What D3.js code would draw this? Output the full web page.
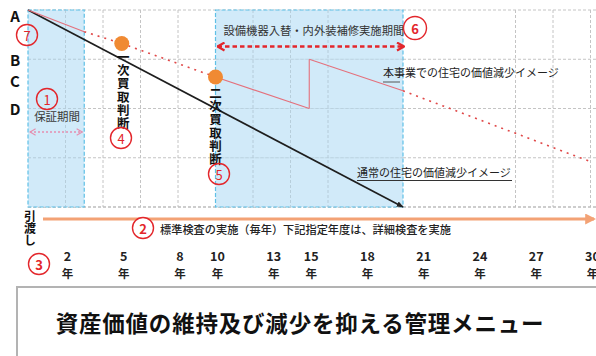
<!DOCTYPE html>
<html>
<head>
<meta charset="utf-8">
<script src="https://cdn.jsdelivr.net/npm/d3@7"></script>
<style>
  html, body { margin: 0; padding: 0; background: #fff; }
  svg { display: block; }
  text { font-family: "Noto Sans CJK JP", "Noto Sans", sans-serif; }
  .vert { writing-mode: vertical-rl; text-orientation: upright; }
</style>
</head>
<body>
<svg id="chart" width="596" height="356"></svg>
<script>
// Elapsed years shown on the bottom axis
const tickYears = [2, 5, 8, 10, 13, 15, 18, 21, 24, 27, 30];

// Value levels marked on the left (index 0–100)
const levelNames = ["A", "B", "C", "D"];
const levelValues = [100, 75, 64, 50];

// Ordinary house: value declines straight to zero
const ordinaryYears = [0, 20];
const ordinaryValues = [100, 0];

// House under this programme: decline, renovation jump, decline
const projectYears = [0, 3, 5, 10, 15, 15, 20, 30];
const projectValues = [100, 89, 83, 66, 50, 75, 59, 23];
const projectSegStyle = ["solid", "dotted", "dotted", "solid", "solid", "solid", "dotted"];

// Purchase decision points (1st, 2nd)
const decisionYears = [5, 10];
const decisionValues = [83, 66];
const decisionLabels = ["一次買取判断", "二次買取判断"];

// Shaded periods: warranty, equipment / repair period
const bandStarts = [0, 10];
const bandEnds = [3, 20];

// Grid
const gridYears = [2, 4, 6, 8, 12, 14, 16, 26, 28, 30];
const gridValues = [25, 50, 75, 100];

const svg = d3.select("#chart");
const x = d3.scaleLinear().domain([0, 30]).range([28, 590.5]);
const y = d3.scaleLinear().domain([0, 100]).range([207, 10]);

const defs = svg.append("defs");
defs.append("marker").attr("id", "arrBlack").attr("viewBox", "0 0 10 10")
  .attr("refX", 9).attr("refY", 5).attr("markerWidth", 7).attr("markerHeight", 7)
  .attr("markerUnits", "userSpaceOnUse").attr("orient", "auto")
  .append("path").attr("d", "M0,1 L10,5 L0,9 Z").attr("fill", "#222");
defs.append("marker").attr("id", "arrOrange").attr("viewBox", "0 0 10 10")
  .attr("refX", 8).attr("refY", 5).attr("markerWidth", 11).attr("markerHeight", 11)
  .attr("markerUnits", "userSpaceOnUse").attr("orient", "auto")
  .append("path").attr("d", "M0,0 L10,5 L0,10 Z").attr("fill", "#f3a275");
function chevron(id, color, size, w) {
  defs.append("marker").attr("id", id).attr("viewBox", "0 0 10 10")
    .attr("refX", 9).attr("refY", 5).attr("markerWidth", size).attr("markerHeight", size)
    .attr("markerUnits", "userSpaceOnUse").attr("orient", "auto-start-reverse")
    .append("path").attr("d", "M2,1 L9,5 L2,9").attr("fill", "none")
    .attr("stroke", color).attr("stroke-width", w);
}
chevron("chevRed", "#e3262b", 10, 2.2);
chevron("chevPink", "#e58fb0", 8, 1.5);

// Grid lines
const grid = svg.append("g").attr("stroke", "#c4c4c4").attr("stroke-width", 1)
  .attr("stroke-dasharray", "3,2").attr("fill", "none");
grid.selectAll(".gv").data(gridYears).join("line")
  .attr("x1", d => x(d)).attr("x2", d => x(d)).attr("y1", y(100)).attr("y2", y(0));
grid.selectAll(".gh").data(gridValues).join("line")
  .attr("x1", x(0)).attr("x2", 596).attr("y1", d => y(d)).attr("y2", d => y(d));
grid.append("line").attr("x1", x(0)).attr("x2", 596).attr("y1", y(0)).attr("y2", y(0))
  .attr("stroke", "#bdbdbd").attr("stroke-width", 1.5);

// Shaded periods
svg.append("g").selectAll("rect").data(bandStarts).join("rect")
  .attr("x", (d, i) => x(d)).attr("width", (d, i) => x(bandEnds[i]) - x(d))
  .attr("y", y(100)).attr("height", y(0) - y(100))
  .attr("fill", "#c9e6f8").attr("fill-opacity", 0.85)
  .attr("stroke", "#5fc0e6").attr("stroke-width", 1.2).attr("stroke-dasharray", "4,2");

// Grid lines visible through the bands
const grid2 = svg.append("g").attr("stroke", "#a9bfcc").attr("stroke-width", 0.8)
  .attr("stroke-dasharray", "3,2").attr("opacity", 0.7);
grid2.selectAll("line").data(gridYears.filter(g => (g > 0 && g < 3) || (g > 10 && g < 20))).join("line")
  .attr("x1", d => x(d)).attr("x2", d => x(d)).attr("y1", y(100)).attr("y2", y(0));
bandStarts.forEach((s, i) => {
  grid2.selectAll(".h" + i).data([25, 50, 75]).join("line")
    .attr("x1", x(s)).attr("x2", x(bandEnds[i])).attr("y1", d => y(d)).attr("y2", d => y(d));
});

// Ordinary house decline
svg.append("line")
  .attr("x1", x(ordinaryYears[0])).attr("y1", y(ordinaryValues[0]))
  .attr("x2", x(ordinaryYears[1])).attr("y2", y(ordinaryValues[1]))
  .attr("stroke", "#1e1e1e").attr("stroke-width", 1.6).attr("marker-end", "url(#arrBlack)");

// Project house value line, segment by segment
const segs = projectSegStyle.map((s, i) => ({
  x1: x(projectYears[i]), y1: y(projectValues[i]),
  x2: x(projectYears[i + 1]), y2: y(projectValues[i + 1]), style: s
}));
svg.append("g").selectAll("line").data(segs).join("line")
  .attr("x1", d => d.x1).attr("y1", d => d.y1).attr("x2", d => d.x2).attr("y2", d => d.y2)
  .attr("stroke", d => d.style === "solid" ? "#e4707c" : "#e04848")
  .attr("stroke-width", d => d.style === "solid" ? 1.1 : 1.6)
  .attr("stroke-dasharray", d => d.style === "solid" ? null : "2,5");

// Decision points
svg.append("g").selectAll("circle").data(decisionYears).join("circle")
  .attr("cx", d => x(d)).attr("cy", (d, i) => y(decisionValues[i])).attr("r", 7.5)
  .attr("fill", "#f08a33");

// Vertical decision labels
svg.append("g").selectAll("text").data(decisionYears).join("text")
  .attr("class", "vert")
  .attr("x", (d, i) => x(d) + (i === 0 ? 1.5 : 0)).attr("y", (d, i) => i === 0 ? 51 : 87)
  .attr("font-size", 12.5).attr("font-weight", 700).attr("letter-spacing", 0.7)
  .attr("fill", "#111")
  .text((d, i) => decisionLabels[i]);

// Level letters
svg.append("g").selectAll("text").data(levelNames).join("text")
  .attr("x", 15).attr("y", (d, i) => y(levelValues[i]) + (i === 0 ? 5 : 0))
  .attr("text-anchor", "middle").attr("dominant-baseline", "central")
  .attr("font-family", "Liberation Sans, Arial, sans-serif")
  .attr("font-size", 15).attr("font-weight", 700).attr("fill", "#111")
  .text(d => d);

// Period labels and arrows
svg.append("text").attr("x", (x(bandStarts[0]) + x(bandEnds[0])) / 2 + 1).attr("y", 116)
  .attr("text-anchor", "middle").attr("dominant-baseline", "central")
  .attr("font-size", 11.5).attr("fill", "#3a3a3a").text("保証期間");
svg.append("line").attr("x1", x(bandStarts[0]) + 2).attr("x2", x(bandEnds[0]) - 2)
  .attr("y1", 132).attr("y2", 132)
  .attr("stroke", "#e58fb0").attr("stroke-width", 1.3).attr("stroke-dasharray", "2,2")
  .attr("marker-start", "url(#chevPink)").attr("marker-end", "url(#chevPink)");

svg.append("text").attr("x", x(bandStarts[1]) + 8).attr("y", 30)
  .attr("dominant-baseline", "central").attr("font-size", 11.3).attr("fill", "#333")
  .text("設備機器入替・内外装補修実施期間");
svg.append("line").attr("x1", x(bandStarts[1]) + 2).attr("x2", x(bandEnds[1]) + 1)
  .attr("y1", 46.5).attr("y2", 46.5)
  .attr("stroke", "#e3262b").attr("stroke-width", 2.4).attr("stroke-dasharray", "4.5,3")
  .attr("marker-start", "url(#chevRed)").attr("marker-end", "url(#chevRed)");

// Line captions
svg.append("text").attr("x", 383).attr("y", 72)
  .attr("dominant-baseline", "central").attr("font-size", 11).attr("fill", "#222")
  .text("本事業での住宅の価値減少イメージ");
svg.append("line").attr("x1", 383).attr("x2", 400).attr("y1", 82).attr("y2", 82)
  .attr("stroke", "#555").attr("stroke-width", 1);
svg.append("text").attr("x", 357).attr("y", 172)
  .attr("dominant-baseline", "central").attr("font-size", 11).attr("fill", "#222")
  .text("通常の住宅の価値減少イメージ");
svg.append("line").attr("x1", 357).attr("x2", 512).attr("y1", 180.5).attr("y2", 180.5)
  .attr("stroke", "#333").attr("stroke-width", 1);

// Hand-over marker and inspection timeline arrow
svg.append("text").attr("class", "vert").attr("x", 30).attr("y", 210)
  .attr("font-size", 12).attr("font-weight", 700).attr("fill", "#111").text("引渡し");
svg.append("line").attr("x1", 43).attr("x2", 594).attr("y1", 219).attr("y2", 219)
  .attr("stroke", "#f3a275").attr("stroke-width", 3).attr("marker-end", "url(#arrOrange)");
svg.append("text").attr("x", 160).attr("y", 228.5)
  .attr("dominant-baseline", "central").attr("font-size", 11.2).attr("font-weight", 500)
  .attr("fill", "#222").text("標準検査の実施（毎年）下記指定年度は、詳細検査を実施");

// Year axis labels: number over 年
const tickG = svg.append("g").attr("text-anchor", "middle").attr("fill", "#222").attr("font-weight", 700);
tickG.selectAll(".num").data(tickYears).join("text").attr("class", "num")
  .attr("x", d => x(d) + 2).attr("y", 260.5)
  .attr("font-family", "Liberation Sans, Arial, sans-serif").attr("font-size", 12.5)
  .text(d => d);
tickG.selectAll(".nen").data(tickYears).join("text").attr("class", "nen")
  .attr("x", d => x(d) + 2).attr("y", 277.5)
  .attr("font-size", 11.5).text("年");

// Circled reference numbers
const markNums = ["7", "1", "4", "5", "6", "2", "3"];
const markX = [27, 47, 121, 219, 415, 143, 39];
const markY = [35, 99, 138, 174, 28, 228, 264];
const marks = svg.append("g").selectAll("g").data(markNums).join("g")
  .attr("transform", (d, i) => `translate(${markX[i]},${markY[i]})`);
marks.append("circle").attr("r", (d, i) => i === 4 ? 11.5 : 10.5)
  .attr("fill", (d, i) => i === 4 || i >= 5 ? "#fff" : "none")
  .attr("stroke", "#e3262b").attr("stroke-width", 1.4);
marks.append("text").attr("text-anchor", "middle").attr("dominant-baseline", "central")
  .attr("font-family", "Liberation Sans, Arial, sans-serif")
  .attr("font-size", 13).attr("font-weight", (d, i) => i >= 4 ? 700 : 400)
  .attr("fill", "#e3262b").text(d => d);

// Title panel
svg.append("rect").attr("x", 17).attr("y", 287).attr("width", 600).attr("height", 80)
  .attr("fill", "#fff").attr("stroke", "#b3b3b3").attr("stroke-width", 2);
svg.append("text").attr("x", 300).attr("y", 322).attr("text-anchor", "middle")
  .attr("dominant-baseline", "central").attr("font-size", 22.5).attr("font-weight", 700)
  .attr("letter-spacing", 0.8).attr("fill", "#111")
  .text("資産価値の維持及び減少を抑える管理メニュー");
</script>
</body>
</html>
